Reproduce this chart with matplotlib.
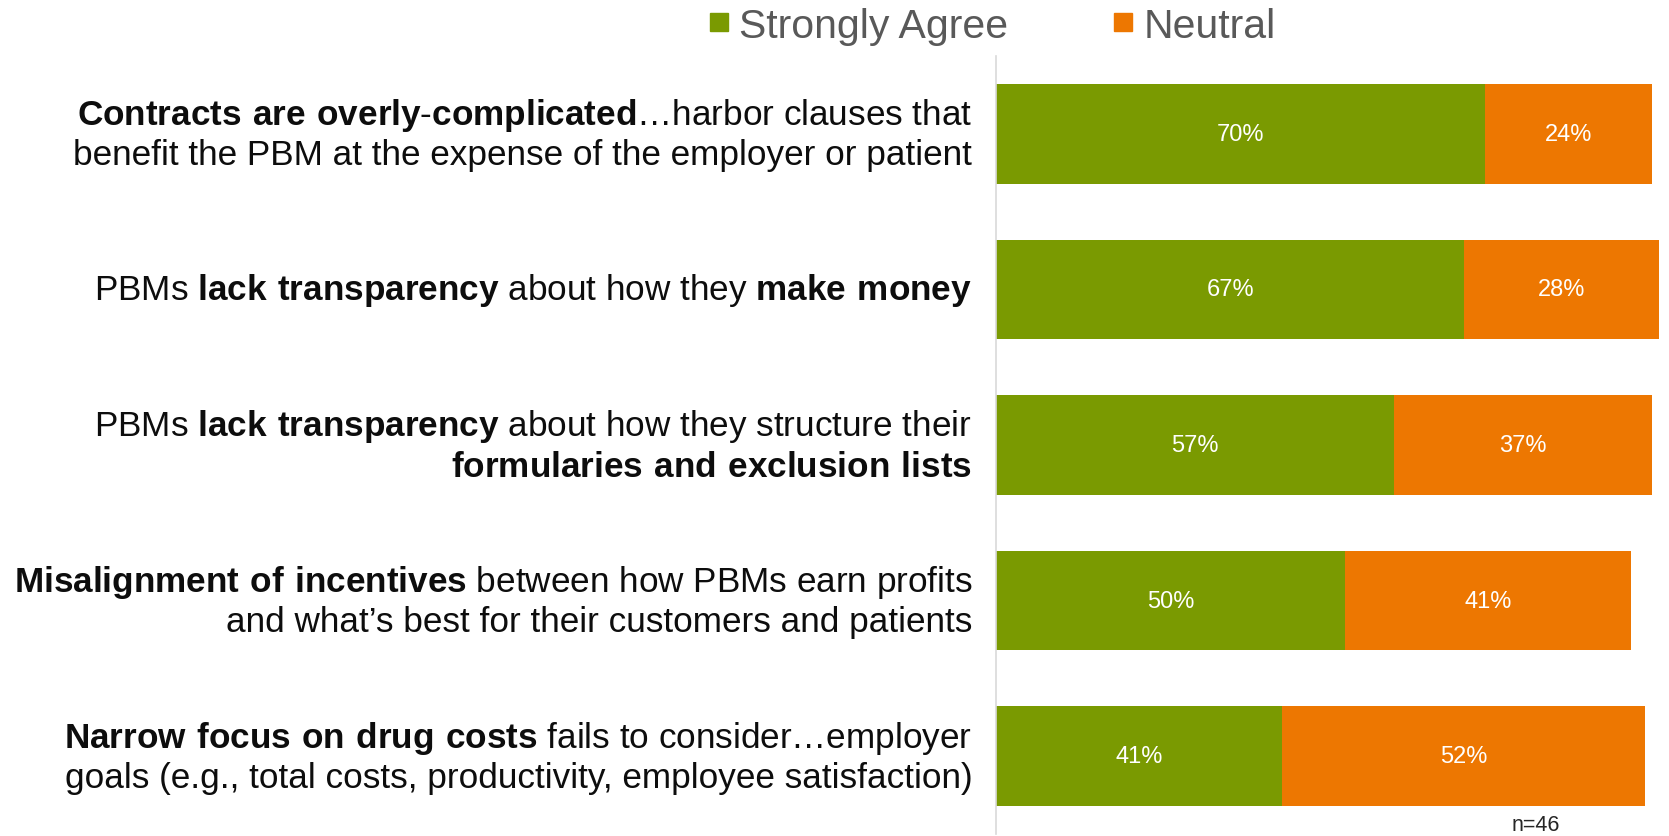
import matplotlib
matplotlib.use("Agg")
import matplotlib.pyplot as plt
from matplotlib.lines import Line2D
import numpy as np

plt.rcParams['font.family'] = ['Liberation Sans', 'DejaVu Sans']
plt.rcParams['mathtext.fontset'] = 'custom'
plt.rcParams['mathtext.rm'] = 'Liberation Sans'
plt.rcParams['mathtext.bf'] = 'Liberation Sans:bold'

# statements (bold parts written as mathtext)
labels = [
    r"$\mathbf{Contracts\ are\ overly}$-$\mathbf{complicated}$…harbor clauses that" + "\n"
    + "benefit the PBM at the expense of the employer or patient",
    r"PBMs $\mathbf{lack\ transparency}$ about how they $\mathbf{make\ money}$",
    r"PBMs $\mathbf{lack\ transparency}$ about how they structure their" + "\n"
    + r"$\mathbf{formularies\ and\ exclusion\ lists}$",
    r"$\mathbf{Misalignment\ of\ incentives}$ between how PBMs earn profits" + "\n"
    + "and what’s best for their customers and patients",
    r"$\mathbf{Narrow\ focus\ on\ drug\ costs}$ fails to consider…employer" + "\n"
    + "goals (e.g., total costs, productivity, employee satisfaction)",
]
strongly_agree = [70, 67, 57, 50, 41]
neutral = [24, 28, 37, 41, 52]
series_names = ["Strongly Agree", "Neutral"]
sample_note = "n=46"

green = "#7A9A01"
orange = "#ED7701"

fig = plt.figure(figsize=(16.69, 8.37), dpi=100)
ax = fig.add_axes([0.597, 0.0024, 0.403, 0.9296])

y = np.arange(len(labels))
ax.barh(y, strongly_agree, height=0.64, color=green, edgecolor='none')
ax.barh(y, neutral, left=strongly_agree, height=0.64, color=orange, edgecolor='none')

for i in range(len(labels)):
    ax.text(strongly_agree[i] / 2, i, f"{strongly_agree[i]}%", ha='center', va='center',
            color='white', fontsize=17)
    ax.text(strongly_agree[i] + neutral[i] / 2, i, f"{neutral[i]}%", ha='center', va='center',
            color='white', fontsize=17)
    ax.text(-0.036, i, labels[i], transform=ax.get_yaxis_transform(), ha='right', va='center',
            multialignment='right', fontsize=25.3, color='#0d0d0d', linespacing=1.2)

ax.set_xlim(0, 96.4)
ax.set_ylim(4.5, -0.5)
ax.set_xticks([])
ax.set_yticks([])
for s in ['top', 'right', 'bottom']:
    ax.spines[s].set_visible(False)
ax.spines['left'].set_color('#D9D9D9')
ax.spines['left'].set_linewidth(1.2)

ax.text(0.802, 0.012, sample_note, transform=ax.transAxes, ha='center', va='center',
        fontsize=15.5, color='#262626')

handles = [Line2D([], [], linestyle='none', marker='s', markersize=13, color=c)
           for c in (green, orange)]
fig.legend(handles, series_names, loc='center', bbox_to_anchor=(0.594, 0.968), ncol=2,
           frameon=False, fontsize=29.5, labelcolor='#595959', handlelength=0.6,
           handletextpad=0.2, columnspacing=2.5, borderpad=0)

fig.savefig("out.png", dpi=100)
